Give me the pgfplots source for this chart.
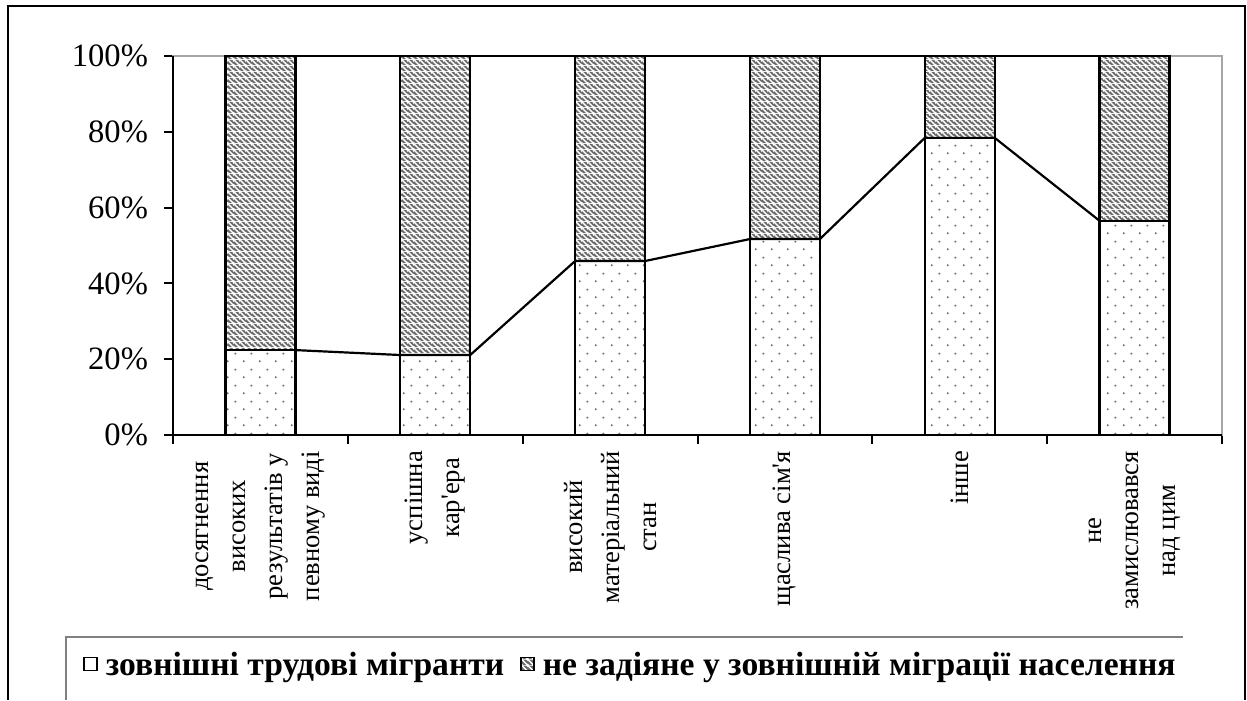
\documentclass[border=0pt]{standalone}
\usepackage{fontspec}
\setmainfont{Liberation Serif}
\usepackage{pgfplots}
\pgfplotsset{compat=1.18}
\usetikzlibrary{patterns.meta}

% sparse grey dots (lower part of the bars)
\tikzdeclarepattern{
  name=sparsedots, type=uncolored,
  bounding box={(0,0) and (8pt,8pt)},
  tile size={(8pt,8pt)},
  code={\fill (2pt,2pt) circle (0.6pt); \fill (6pt,6pt) circle (0.6pt);}
}
% dark grey with light diagonal stripes (upper part)
\tikzdeclarepattern{
  name=darkhatch, type=colored,
  bounding box={(0,0) and (3pt,3pt)},
  tile size={(3pt,3pt)},
  code={
    \fill[black!58] (0,0) rectangle (3pt,3pt);
    \draw[white, line width=0.8pt] (-0.5pt,3.5pt) -- (3.5pt,-0.5pt)
      (-1pt,1pt) -- (1pt,-1pt) (2pt,4pt) -- (4pt,2pt);
  }
}

\pgfplotsset{
  common/.style={
    at={(86.5pt,132.5pt)}, anchor=south west,
    width=524.5pt, height=189.5pt, scale only axis,
    xmin=-0.5, xmax=5.5, ymin=0, ymax=100,
  },
}

\begin{document}
\begin{tikzpicture}
\path (0,0) rectangle (623.5pt,350pt);
% outer frame
\draw[line width=1pt] (4pt,0) -- (4pt,347pt) -- (622.5pt,347pt) -- (622.5pt,0);
% legend frame (top and left only)
\draw[gray, line width=0.6pt] (33pt,0) -- (33pt,31.5pt) -- (591.5pt,31.5pt);

\begin{axis}[common,
  ybar stacked, bar width=0.4,
  clip=false,
  axis line style={gray!70, line width=0.8pt},
  tick style={black, line width=1pt},
  major tick length=4.5pt,
  tick align=outside,
  xtick={-0.5,0.5,...,5.5},
  x tick label as interval,
  xtick pos=bottom, ytick pos=left,
  xticklabels={
    {досягнення\\високих\\результатів у\\певному виді},
    {успішна\\кар\textquotesingle ера},
    {високий\\матеріальний\\стан},
    {щаслива сім\textquotesingle я},
    {інше},
    {не\\замислювався\\над цим}},
  xticklabel style={rotate=90, anchor=east, align=center,
    font=\fontsize{13.3}{18.5}\selectfont},
  ytick={0,20,...,100},
  yticklabel={\pgfmathprintnumber{\tick}\%},
  yticklabel style={font=\fontsize{16.3}{19}\selectfont, xshift=-4.5pt},
  /pgf/number format/assume math mode=true,
  legend columns=2,
  legend style={at={(0.437,-0.608)}, anchor=center, draw=none, fill=none,
    font=\bfseries\fontsize{16.8}{20}\selectfont,
    /tikz/every even column/.append style={column sep=6pt}},
]
\addplot[draw=black, line width=1.2pt, pattern=sparsedots, pattern color=black!55,
  legend image code/.code={\draw[black, line width=0.8pt, fill=white] (0pt,-2.6pt) rectangle (6.5pt,3.9pt);}]
  coordinates {(0,22.4) (1,21.1) (2,45.9) (3,51.7) (4,78.4) (5,56.5)};
\addlegendentry{\hspace{2pt}зовнішні трудові мігранти}
\addplot[draw=black, line width=1.2pt, pattern=darkhatch,
  legend image code/.code={\draw[black, line width=0.8pt, pattern=darkhatch] (0pt,-2.6pt) rectangle (6.5pt,3.9pt);}]
  coordinates {(0,77.6) (1,78.9) (2,54.1) (3,48.3) (4,21.6) (5,43.5)};
\addlegendentry{\hspace{2pt}не задіяне у зовнішній міграції населення}
\draw[black, line width=1.2pt] (rel axis cs:0,1) -- (rel axis cs:0,0) -- (rel axis cs:1,0);
\end{axis}

% series lines between the bars
\begin{axis}[common, hide axis, clip=false]
\addplot[black, line width=1.1pt] coordinates {
  (0.2,22.4) (0.8,21.1) (1.2,21.1) (1.8,45.9) (2.2,45.9) (2.8,51.7)
  (3.2,51.7) (3.8,78.4) (4.2,78.4) (4.8,56.5)};
\addplot[black, line width=1.2pt] coordinates {(0.2,100) (4.8,100)};
\end{axis}
\end{tikzpicture}
\end{document}
